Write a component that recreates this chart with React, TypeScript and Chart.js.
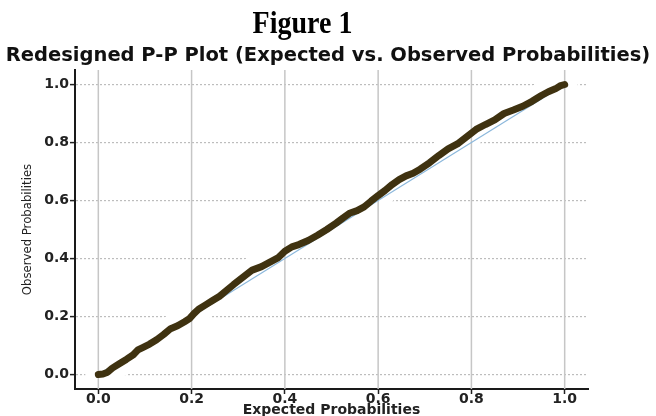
import React, { useEffect, useRef } from "react";
import { Chart, registerables } from "chart.js";

Chart.register(...registerables);

const FIGURE_LABEL = "Figure 1";
const CHART_TITLE = "Redesigned P-P Plot (Expected vs. Observed Probabilities)";
const X_TITLE = "Expected Probabilities";
const Y_TITLE = "Observed Probabilities";

const EXPECTED = [
  0, 0.01, 0.02, 0.03, 0.045, 0.06, 0.075, 0.085, 0.095, 0.11, 0.125, 0.14, 0.155, 0.17,
  0.185, 0.195, 0.205, 0.215, 0.23, 0.245, 0.26, 0.275, 0.29, 0.31, 0.33, 0.35, 0.365,
  0.385, 0.4, 0.415, 0.43, 0.45, 0.47, 0.49, 0.51, 0.525, 0.54, 0.555, 0.57, 0.585, 0.6,
  0.615, 0.63, 0.645, 0.66, 0.675, 0.69, 0.71, 0.73, 0.75, 0.77, 0.79, 0.81, 0.83, 0.85,
  0.87, 0.89, 0.91, 0.93, 0.95, 0.965, 0.98, 0.99, 1.0,
];
const OBSERVED = [
  0, 0.002, 0.008, 0.022, 0.037, 0.052, 0.068, 0.085, 0.093, 0.105, 0.12, 0.138, 0.158,
  0.168, 0.182, 0.192, 0.21, 0.225, 0.24, 0.255, 0.27, 0.29, 0.31, 0.335, 0.36, 0.372,
  0.385, 0.402, 0.425, 0.44, 0.448, 0.462, 0.48, 0.5, 0.522, 0.54, 0.557, 0.565, 0.578,
  0.598, 0.617, 0.635, 0.655, 0.672, 0.685, 0.694, 0.708, 0.73, 0.755, 0.778, 0.795, 0.82,
  0.845, 0.862, 0.878, 0.9, 0.912, 0.925, 0.942, 0.962, 0.975, 0.985, 0.995, 1.0,
];
const REF_X = [0, 1];
const REF_Y = [0, 1];

const TICK_VALUES = [0, 0.2, 0.4, 0.6, 0.8, 1.0];
const TICK_LABELS = ["0.0", "0.2", "0.4", "0.6", "0.8", "1.0"];
const AXIS_MIN = -0.05;
const AXIS_MAX = 1.05;

const vGridPlugin = {
  id: "vgrid",
  beforeDatasetDraw(chart: any, args: any) {
    if (args.index !== 1) return;
    const { ctx, chartArea, scales } = chart;
    ctx.save();
    ctx.strokeStyle = "#c6c6c6";
    ctx.lineWidth = 1.5;
    TICK_VALUES.forEach((v) => {
      const x = scales.x.getPixelForValue(v);
      ctx.beginPath();
      ctx.moveTo(x, chartArea.top);
      ctx.lineTo(x, chartArea.bottom);
      ctx.stroke();
    });
    ctx.restore();
  },
};

export default function App() {
  const canvasRef = useRef<HTMLCanvasElement | null>(null);

  useEffect(() => {
    document.body.style.margin = "0";
    const canvas = canvasRef.current;
    if (!canvas) return;
    const makePoints = () => EXPECTED.map((x, i) => ({ x, y: OBSERVED[i] }));
    const refPoints = REF_X.map((x, i) => ({ x, y: REF_Y[i] }));
    const tickFont = { family: "DejaVu Sans", weight: "bold" as const, size: 14 };

    const chart = new Chart(canvas, {
      type: "line",
      data: {
        datasets: [
          {
            data: makePoints(),
            borderColor: "#3f3210",
            borderWidth: 7,
            pointRadius: 0,
            borderJoinStyle: "round",
            borderCapStyle: "round",
            tension: 0,
            order: 0,
          },
          {
            data: refPoints,
            borderColor: "#8cb8dc",
            borderWidth: 1.2,
            pointRadius: 0,
            order: 1,
          },
          {
            data: makePoints(),
            borderColor: "#ffffff",
            borderWidth: 26,
            pointRadius: 0,
            borderJoinStyle: "round",
            borderCapStyle: "round",
            order: 2,
          },
        ],
      },
      options: {
        animation: false,
        responsive: false,
        devicePixelRatio: 1,
        layout: { padding: 0 },
        plugins: {
          legend: { display: false },
          tooltip: { enabled: false },
          title: {
            display: true,
            text: CHART_TITLE,
            color: "#111",
            font: { family: "DejaVu Sans", weight: "bold", size: 19.5, lineHeight: 1.2 },
            padding: { top: 44, bottom: 2.6 },
          },
        },
        scales: {
          x: {
            type: "linear",
            min: AXIS_MIN,
            max: AXIS_MAX,
            afterBuildTicks: (s: any) => {
              s.ticks = TICK_VALUES.map((v) => ({ value: v }));
            },
            afterFit: (s: any) => {
              s.height = 27;
            },
            ticks: {
              autoSkip: false,
              maxRotation: 0,
              padding: -3,
              color: "#222",
              font: tickFont,
              callback: (_v: any, i: number) => TICK_LABELS[i],
            },
            grid: {
              drawOnChartArea: false,
              drawTicks: true,
              tickLength: 5,
              tickColor: "#222",
              tickWidth: 1.5,
            },
            border: { display: true, color: "#1a1a1a", width: 2 },
            title: {
              display: true,
              text: X_TITLE,
              color: "#222",
              font: { family: "DejaVu Sans", weight: "bold", size: 14, lineHeight: 1 },
              padding: { top: 0, bottom: -1 },
            },
          },
          y: {
            type: "linear",
            min: AXIS_MIN,
            max: AXIS_MAX,
            afterBuildTicks: (s: any) => {
              s.ticks = TICK_VALUES.map((v) => ({ value: v }));
            },
            afterFit: (s: any) => {
              s.width = 75;
            },
            ticks: {
              autoSkip: false,
              padding: 1,
              color: "#222",
              font: tickFont,
              callback: (_v: any, i: number) => TICK_LABELS[i],
            },
            grid: {
              color: "#bdbdbd",
              lineWidth: 1.2,
              drawTicks: true,
              tickLength: 5,
              tickColor: "#222",
              tickWidth: 1.5,
              tickBorderDash: [],
            },
            border: { display: true, color: "#1a1a1a", width: 2, dash: [2, 2] },
            title: {
              display: true,
              text: Y_TITLE,
              color: "#222",
              font: {
                family: "'DejaVu Sans Condensed', 'Liberation Sans Narrow', 'Liberation Sans', sans-serif",
                size: 13,
                lineHeight: 1.2,
              },
              padding: { top: 20, bottom: 0 },
            },
          },
          yRight: {
            type: "linear",
            position: "right",
            display: true,
            grid: { display: false, drawTicks: false },
            border: { display: false },
            ticks: { display: false },
            afterFit: (s: any) => {
              s.width = 68;
            },
          },
        },
      },
      plugins: [vGridPlugin],
    });
    return () => chart.destroy();
  }, []);

  return (
    <div style={{ position: "relative", width: 656, height: 416, background: "#fff" }}>
      <canvas ref={canvasRef} width={656} height={416} style={{ display: "block" }} />
      <div
        style={{
          position: "absolute",
          left: 0,
          top: 9.5,
          width: 605,
          textAlign: "center",
          fontFamily: "'Liberation Serif', 'Times New Roman', serif",
          fontWeight: "bold",
          fontSize: 28,
          lineHeight: "28px",
          color: "#000",
          transform: "scaleY(1.12)",
          transformOrigin: "50% 23.5px",
        }}
      >
        {FIGURE_LABEL}
      </div>
    </div>
  );
}
